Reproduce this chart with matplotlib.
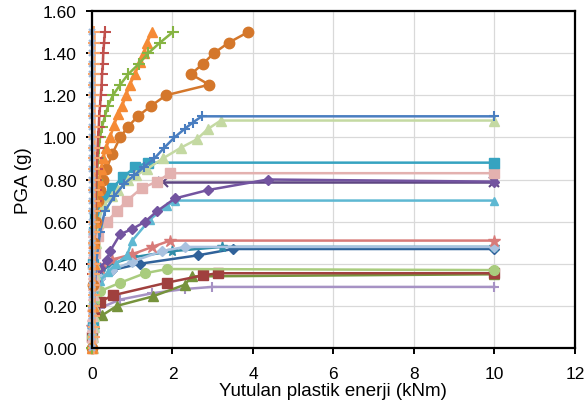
import matplotlib
matplotlib.use("Agg")
import matplotlib.pyplot as plt
import numpy as np

plt.rcParams['font.family'] = ['Liberation Sans', 'DejaVu Sans']

# ---- data (x: absorbed plastic energy kNm, y: PGA g) ----
lb_x_x = [0.0] * 31
lb_x_y = [round(0.05 * i, 2) for i in range(31)]

salmon_plus_x = [0.05] * 31
salmon_plus_y = [round(0.05 * i, 2) for i in range(31)]

red_plus_x = [0.02, 0.03, 0.04, 0.05, 0.06, 0.07, 0.08, 0.09, 0.1, 0.11, 0.12, 0.13, 0.14, 0.15, 0.17, 0.18, 0.2, 0.22, 0.24, 0.25, 0.27, 0.28, 0.3, 0.32]
red_plus_y = [0.35, 0.4, 0.45, 0.5, 0.55, 0.6, 0.65, 0.7, 0.75, 0.8, 0.85, 0.9, 0.95, 1.0, 1.05, 1.1, 1.15, 1.2, 1.25, 1.3, 1.35, 1.4, 1.45, 1.5]

green_plus_x = [0.0, 0.02, 0.04, 0.06, 0.08, 0.1, 0.12, 0.13, 0.15, 0.17, 0.2, 0.25, 0.32, 0.4, 0.52, 0.7, 0.9, 1.17, 1.4, 1.69, 2.01]
green_plus_y = [0.0, 0.2, 0.4, 0.5, 0.6, 0.7, 0.8, 0.85, 0.9, 0.95, 1.0, 1.05, 1.1, 1.15, 1.2, 1.25, 1.3, 1.35, 1.4, 1.45, 1.5]

orange_tri_x = [0.0, 0.02, 0.04, 0.06, 0.08, 0.1, 0.14, 0.18, 0.22, 0.28, 0.35, 0.45, 0.55, 0.65, 0.75, 0.85, 0.94, 1.07, 1.19, 1.3, 1.37, 1.49]
orange_tri_y = [0.0, 0.2, 0.4, 0.5, 0.6, 0.7, 0.75, 0.8, 0.85, 0.9, 0.95, 1.0, 1.06, 1.11, 1.15, 1.2, 1.25, 1.3, 1.36, 1.4, 1.45, 1.5]

dkorange_circ_x = [0.0, 0.03, 0.06, 0.1, 0.14, 0.2, 0.27, 0.36, 0.5, 0.7, 0.89, 1.14, 1.47, 1.84, 2.91, 2.46, 2.76, 3.03, 3.4, 3.88]
dkorange_circ_y = [0.0, 0.3, 0.5, 0.6, 0.7, 0.75, 0.8, 0.85, 0.92, 1.0, 1.05, 1.1, 1.15, 1.2, 1.25, 1.3, 1.35, 1.4, 1.45, 1.5]

blue_plus_x = [0.02, 0.05, 0.1, 0.2, 0.32, 0.55, 0.8, 1.05, 1.3, 1.55, 1.79, 2.05, 2.3, 2.5, 2.73, 10]
blue_plus_y = [0.05, 0.2, 0.4, 0.55, 0.65, 0.72, 0.78, 0.82, 0.86, 0.9, 0.95, 1.0, 1.04, 1.07, 1.1, 1.1]

lg_tri_x = [0.03, 0.03, 0.04, 0.04, 0.05, 0.05, 0.06, 0.07, 0.08, 0.1, 0.15, 0.3, 0.5, 0.65, 0.9, 1.1, 1.37, 1.76, 2.2, 2.6, 2.88, 3.2, 10]
lg_tri_y = [0.0, 0.05, 0.1, 0.15, 0.2, 0.25, 0.3, 0.35, 0.4, 0.5, 0.6, 0.68, 0.72, 0.75, 0.8, 0.82, 0.85, 0.9, 0.95, 0.99, 1.04, 1.08, 1.08]

teal_sq_x = [0.02, 0.03, 0.05, 0.08, 0.15, 0.3, 0.5, 0.77, 1.07, 1.39, 10]
teal_sq_y = [0.1, 0.4, 0.55, 0.62, 0.68, 0.72, 0.76, 0.81, 0.86, 0.88, 0.88]

pink_sq_x = [0.02, 0.04, 0.08, 0.15, 0.37, 0.62, 0.87, 1.24, 1.62, 1.94, 10]
pink_sq_y = [0.1, 0.3, 0.45, 0.53, 0.6, 0.65, 0.7, 0.76, 0.79, 0.83, 0.83]

pink_tri_x = [0.01, 0.01, 0.01, 0.01, 0.01, 0.02, 0.02, 0.02, 0.02, 0.02, 0.03, 0.03]
pink_tri_y = [0.0, 0.05, 0.1, 0.15, 0.2, 0.25, 0.3, 0.35, 0.4, 0.45, 0.5, 0.55]

purple_dia_x = [0.03, 0.08, 0.2, 0.37, 0.45, 0.7, 1.0, 1.32, 1.62, 2.06, 2.88, 4.37, 10]
purple_dia_y = [0.2, 0.32, 0.38, 0.42, 0.46, 0.54, 0.565, 0.6, 0.65, 0.71, 0.75, 0.8, 0.79]

purple_x_x = [1.77, 10]
purple_x_y = [0.79, 0.79]

cyan_tri_x = [0.01, 0.05, 0.2, 0.4, 0.6, 0.87, 1.0, 1.44, 1.86, 2.06, 10]
cyan_tri_y = [0.05, 0.2, 0.32, 0.36, 0.4, 0.44, 0.51, 0.61, 0.675, 0.7, 0.7]

salmon_star_x = [0.01, 0.05, 0.2, 0.5, 1.0, 1.5, 1.94, 10]
salmon_star_y = [0.1, 0.3, 0.38, 0.42, 0.445, 0.48, 0.51, 0.51]

steel_dia_x = [0.01, 0.05, 0.2, 0.5, 1.0, 1.74, 2.31, 10]
steel_dia_y = [0.1, 0.28, 0.33, 0.37, 0.41, 0.46, 0.48, 0.48]

teal_star_x = [0.01, 0.05, 0.2, 0.5, 1.0, 2.0, 3.23, 10]
teal_star_y = [0.1, 0.3, 0.36, 0.4, 0.43, 0.46, 0.48, 0.48]

dkblue_dia_x = [0.01, 0.05, 0.2, 0.5, 1.19, 2.63, 3.5, 10]
dkblue_dia_y = [0.1, 0.28, 0.33, 0.37, 0.4, 0.44, 0.47, 0.47]

lg_circ_x = [0.01, 0.05, 0.2, 0.7, 1.32, 1.86, 10]
lg_circ_y = [0.05, 0.22, 0.27, 0.31, 0.355, 0.375, 0.37]

dkred_sq_x = [0.01, 0.05, 0.2, 0.52, 1.86, 2.76, 3.13, 10]
dkred_sq_y = [0.05, 0.18, 0.22, 0.25, 0.31, 0.345, 0.355, 0.355]

olive_tri_x = [0.01, 0.05, 0.25, 0.62, 1.51, 2.3, 2.48, 10]
olive_tri_y = [0.05, 0.12, 0.155, 0.2, 0.245, 0.3, 0.34, 0.35]

lav_plus_x = [0.01, 0.05, 0.2, 0.7, 1.5, 2.3, 2.98, 10]
lav_plus_y = [0.05, 0.15, 0.19, 0.23, 0.26, 0.28, 0.29, 0.29]

x_ticks = [0, 2, 4, 6, 8, 10, 12]
y_ticks = [0.0, 0.2, 0.4, 0.6, 0.8, 1.0, 1.2, 1.4, 1.6]

series = [
    (lav_plus_x, lav_plus_y, '#A692C4', '+', 7),
    (olive_tri_x, olive_tri_y, '#76933C', '^', 7),
    (dkred_sq_x, dkred_sq_y, '#A0403E', 's', 6.5),
    (lg_circ_x, lg_circ_y, '#A9CC7E', 'o', 7),
    (dkblue_dia_x, dkblue_dia_y, '#30629A', 'D', 5),
    (teal_star_x, teal_star_y, '#2E8CA8', '*', 8),
    (steel_dia_x, steel_dia_y, '#A9C2E0', 'D', 5),
    (salmon_star_x, salmon_star_y, '#D87B79', '*', 9),
    (cyan_tri_x, cyan_tri_y, '#5EB8D2', '^', 6),
    (purple_x_x, purple_x_y, '#5E4682', 'x', 7),
    (purple_dia_x, purple_dia_y, '#7354A0', 'D', 5.5),
    (pink_sq_x, pink_sq_y, '#E3B1AF', 's', 7),
    (teal_sq_x, teal_sq_y, '#36A3C0', 's', 7),
    (lg_tri_x, lg_tri_y, '#C4D9A2', '^', 7),
    (pink_tri_x, pink_tri_y, '#E9B8B7', '^', 7),
    (blue_plus_x, blue_plus_y, '#4A7EC0', '+', 7),
    (dkorange_circ_x, dkorange_circ_y, '#D4772B', 'o', 7.5),
    (orange_tri_x, orange_tri_y, '#F58A35', '^', 7),
    (green_plus_x, green_plus_y, '#86B443', '+', 8),
    (red_plus_x, red_plus_y, '#C0504D', '+', 8),
    (salmon_plus_x, salmon_plus_y, '#F9A46A', '+', 8),
    (lb_x_x, lb_x_y, '#9DB9DC', 'x', 5),
]

fig = plt.figure(figsize=(5.86, 4.14), dpi=100)
ax = fig.add_axes([0.157, 0.157, 0.824, 0.814])

for i, (xs, ys, c, m, ms) in enumerate(series):
    mew = 1.5 if m in ('+', 'x') else 1.0
    ax.plot(xs, ys, color=c, marker=m, markersize=ms, linewidth=1.8,
            markeredgewidth=mew, markeredgecolor=c, markerfacecolor=c,
            zorder=3 + i * 0.01, clip_on=False)

ax.set_xlim(0, 12)
ax.set_ylim(0, 1.6)
ax.set_xticks(x_ticks)
ax.set_yticks(y_ticks)
ax.set_yticklabels([f"{v:.2f}" for v in y_ticks])
ax.grid(True, color='#D9D9D9', linewidth=0.9, zorder=0)
ax.set_axisbelow(True)
for s in ax.spines.values():
    s.set_linewidth(1.6)
    s.set_color('black')
    s.set_zorder(10)
ax.tick_params(axis='both', direction='out', length=4, width=1.4, labelsize=12.5, colors='black')
ax.tick_params(axis='x', pad=9)
ax.tick_params(axis='y', pad=7)
ax.set_xlabel('Yutulan plastik enerji (kNm)', fontsize=13.5, labelpad=1)
ax.set_ylabel('PGA (g)', fontsize=13.5, labelpad=8)

fig.savefig('out.png', dpi=100)
